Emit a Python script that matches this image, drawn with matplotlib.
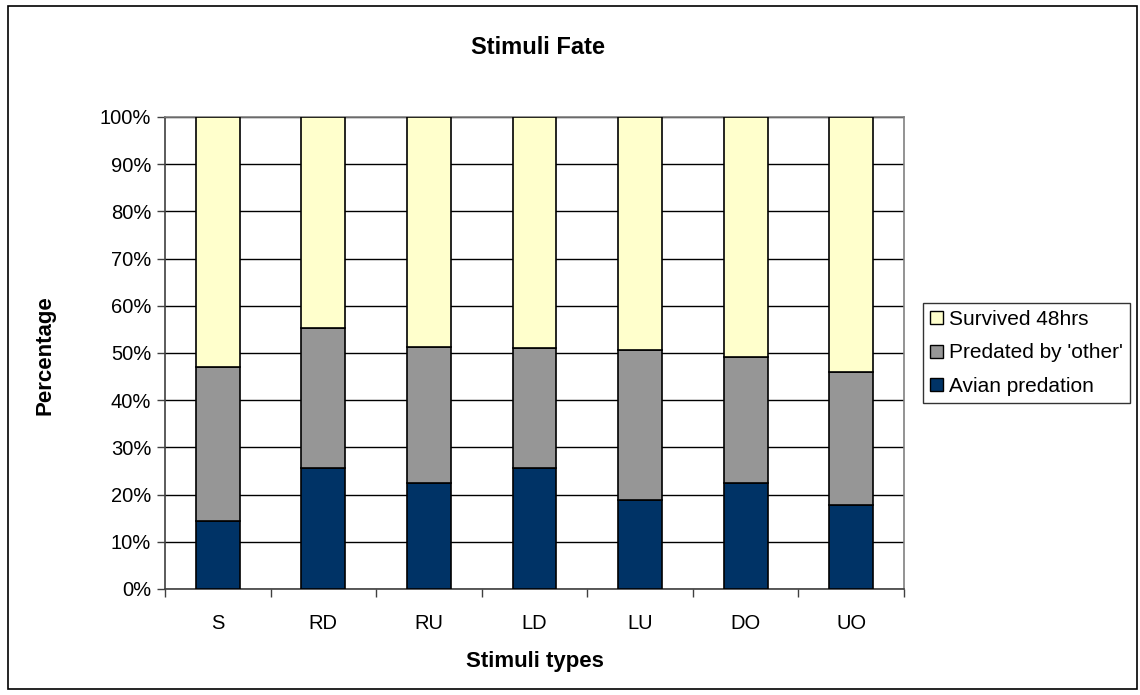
import matplotlib.pyplot as plt
import numpy as np
from matplotlib.patches import Rectangle, Patch

plt.rcParams['font.family'] = ['Liberation Sans', 'DejaVu Sans']

# Datos (porcentajes)
stimuli = ['S', 'RD', 'RU', 'LD', 'LU', 'DO', 'UO']
avian = [14.5, 25.7, 22.4, 25.7, 18.8, 22.4, 17.7]
predated_top = [47.1, 55.4, 51.3, 51.0, 50.6, 49.1, 46.0]
predated = [t - a for t, a in zip(predated_top, avian)]
survived = [100 - t for t in predated_top]
series_names = ['Avian predation', "Predated by 'other'", 'Survived 48hrs']
series_colors = ['#003366', '#969696', '#FFFFCC']

fig = plt.figure(figsize=(11.4, 6.95), dpi=100)
ax = fig.add_axes([165 / 1140, 1 - 589 / 695, (904 - 165) / 1140, (589 - 117) / 695])

x = np.arange(len(stimuli))
bottom = np.zeros(len(stimuli))
for vals, col in zip([avian, predated, survived], series_colors):
    ax.bar(x, vals, width=0.415, bottom=bottom, color=col, edgecolor='black',
           linewidth=1.2, zorder=3)
    bottom += np.array(vals)

ax.set_xlim(-0.5, len(stimuli) - 0.5)
ax.set_ylim(0, 100)
ax.set_yticks(np.arange(0, 101, 10))
ax.set_yticklabels([f'{v}%' for v in range(0, 101, 10)], fontsize=14.5)
ax.yaxis.grid(True, color='black', linewidth=1, zorder=0)

# ticks del eje x en los limites de categoria
ax.set_xticks(x)
ax.set_xticklabels(stimuli, fontsize=14.5)
ax.set_xticks(np.arange(-0.5, len(stimuli)), minor=True)
ax.tick_params(axis='x', which='major', length=0, pad=18)
ax.tick_params(axis='x', which='minor', length=6, width=1, color='#404040')
ax.tick_params(axis='y', length=6, width=1, color='#404040', pad=4)

for s in ['top', 'right']:
    ax.spines[s].set_color('#808080')
    ax.spines[s].set_linewidth(1.2)
for s in ['left', 'bottom']:
    ax.spines[s].set_color('#404040')
    ax.spines[s].set_linewidth(1.2)

fig.text(538 / 1140, 1 - 47 / 695, 'Stimuli Fate', ha='center', va='center',
         fontsize=17, fontweight='bold')
fig.text(535 / 1140, 1 - 661 / 695, 'Stimuli types', ha='center', va='center',
         fontsize=16, fontweight='bold')
fig.text(45 / 1140, 1 - 355 / 695, 'Percentage', ha='center', va='center',
         rotation=90, fontsize=16, fontweight='bold')

handles = [Patch(facecolor=c, edgecolor='black', linewidth=1) for c in series_colors]
leg = fig.legend(handles[::-1], series_names[::-1], loc='center left',
                 bbox_to_anchor=(923 / 1140, 1 - 353 / 695), fontsize=15,
                 frameon=True, fancybox=False, edgecolor='black', borderpad=0.35,
                 handlelength=0.6, handleheight=0.6, handletextpad=0.3,
                 labelspacing=0.7, borderaxespad=0)
leg.get_frame().set_linewidth(1)

# borde de la figura
fig.patches.append(Rectangle((8 / 1140, 1 - 689 / 695), (1137 - 8) / 1140, (689 - 6) / 695,
                             transform=fig.transFigure, fill=False,
                             edgecolor='black', linewidth=1.2))

fig.savefig('out.png', dpi=100)
